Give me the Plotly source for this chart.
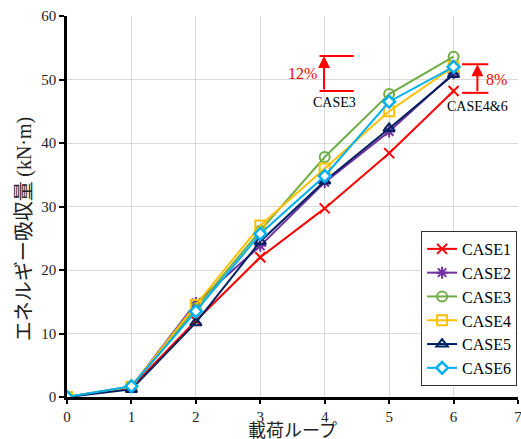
import plotly.graph_objects as go

loops = [0, 1, 2, 3, 4, 5, 6]
case1 = [0, 1.5, 12.0, 22.0, 29.7, 38.4, 48.2]
case2 = [0, 1.6, 14.8, 23.8, 33.8, 41.8, 51.0]
case3 = [0, 1.7, 14.0, 26.2, 37.8, 47.7, 53.6]
case4 = [0, 1.6, 14.5, 27.0, 36.0, 45.0, 52.0]
case5 = [0, 1.2, 11.7, 24.5, 34.0, 42.3, 50.8]
case6 = [0, 1.7, 13.5, 25.7, 34.8, 46.5, 52.0]
names = ["CASE1", "CASE2", "CASE3", "CASE4", "CASE5", "CASE6"]
series = [case1, case2, case3, case4, case5, case6]
colors = ["#FF0000", "#7030A0", "#70AD47", "#FFC000", "#002060", "#00B0F0"]
symbols = ["x-thin-open", "asterisk-open", "circle-open", "square-open", "triangle-up-open", "diamond"]

fig = go.Figure()
for n, s, c, sym in zip(names, series, colors, symbols):
    marker = dict(symbol=sym, size=10, color=c, line=dict(color=c, width=2))
    if sym == "diamond":
        marker = dict(symbol="diamond", size=9, color="white", line=dict(color=c, width=2.5))
    fig.add_trace(go.Scatter(x=loops, y=s, name=n, mode="lines+markers",
                             line=dict(color=c, width=2), marker=marker))

red = "#FF0000"
# 12% bracket (CASE3)
for yv in [48.2, 53.7]:
    fig.add_shape(type="line", xref="x", yref="y", x0=3.92, x1=4.45, y0=yv, y1=yv,
                  line=dict(color=red, width=2))
fig.add_annotation(x=3.99, y=53.7, ax=3.99, ay=48.2, xref="x", yref="y", axref="x", ayref="y",
                   showarrow=True, arrowhead=2, arrowsize=1.2, arrowwidth=2, arrowcolor=red, text="")
# 8% bracket (CASE4&6)
for yv in [47.9, 52.4]:
    fig.add_shape(type="line", xref="x", yref="y", x0=6.13, x1=6.54, y0=yv, y1=yv,
                  line=dict(color=red, width=2))
fig.add_annotation(x=6.37, y=52.4, ax=6.37, ay=47.9, xref="x", yref="y", axref="x", ayref="y",
                   showarrow=True, arrowhead=2, arrowsize=1.2, arrowwidth=2, arrowcolor=red, text="")

serif = "Liberation Serif, Times New Roman, serif"
fig.add_annotation(x=3.65, y=50.9, xref="x", yref="y", text="12%", showarrow=False,
                   font=dict(family=serif, size=16, color=red))
fig.add_annotation(x=4.15, y=46.4, xref="x", yref="y", text="CASE3", showarrow=False,
                   font=dict(family=serif, size=14, color="black"))
fig.add_annotation(x=6.66, y=50.0, xref="x", yref="y", text="8%", showarrow=False,
                   font=dict(family=serif, size=16, color=red))
fig.add_annotation(x=6.37, y=45.8, xref="x", yref="y", text="CASE4&amp;6", showarrow=False,
                   font=dict(family=serif, size=14, color="black"))

# axis titles
fig.add_annotation(x=0.5, y=-0.085, xref="paper", yref="paper", xanchor="center", yanchor="middle",
                   text="載荷ループ", showarrow=False, borderpad=0,
                   font=dict(family="Noto Sans CJK JP", size=18, color="#222"))
fig.add_annotation(x=-0.1, y=0.44, xref="paper", yref="paper", xanchor="center", yanchor="middle",
                   text="エネルギー吸収量 <span style='font-family:Liberation Serif'>(kN·m)</span>",
                   showarrow=False, textangle=-90,
                   font=dict(family="Noto Sans CJK JP", size=20, color="#222"))

fig.update_layout(
    width=521, height=439,
    margin=dict(l=67, r=3, t=16, b=42, autoexpand=False),
    paper_bgcolor="white", plot_bgcolor="white",
    font=dict(family=serif, size=15, color="#222"),
    showlegend=True,
    legend=dict(x=0.998, y=0.029, xanchor="right", yanchor="bottom",
                bordercolor="#333", borderwidth=1, bgcolor="white",
                font=dict(family=serif, size=16, color="black"),
                itemwidth=30, tracegroupgap=0),
    xaxis=dict(range=[0, 7], dtick=1, showgrid=True, gridcolor="#D9D9D9",
               showline=True, linecolor="black", linewidth=2.5, automargin=False,
               ticks="outside", ticklen=4, tickcolor="black", tickwidth=1.5,
               ticklabeloverflow="allow",
               zeroline=False, tickfont=dict(family=serif, size=15, color="#222")),
    yaxis=dict(range=[0, 60], dtick=10, showgrid=True, gridcolor="#D9D9D9",
               showline=True, linecolor="black", linewidth=2.5, automargin=False,
               ticks="outside", ticklen=5, tickcolor="black", tickwidth=1.5,
               ticklabeloverflow="allow",
               zeroline=False, tickfont=dict(family=serif, size=15, color="#222")),
)
fig.write_html("out.html", config={"displayModeBar": False},
               post_script="document.body.style.margin='0';document.body.style.padding='0';document.body.style.overflow='hidden';")
